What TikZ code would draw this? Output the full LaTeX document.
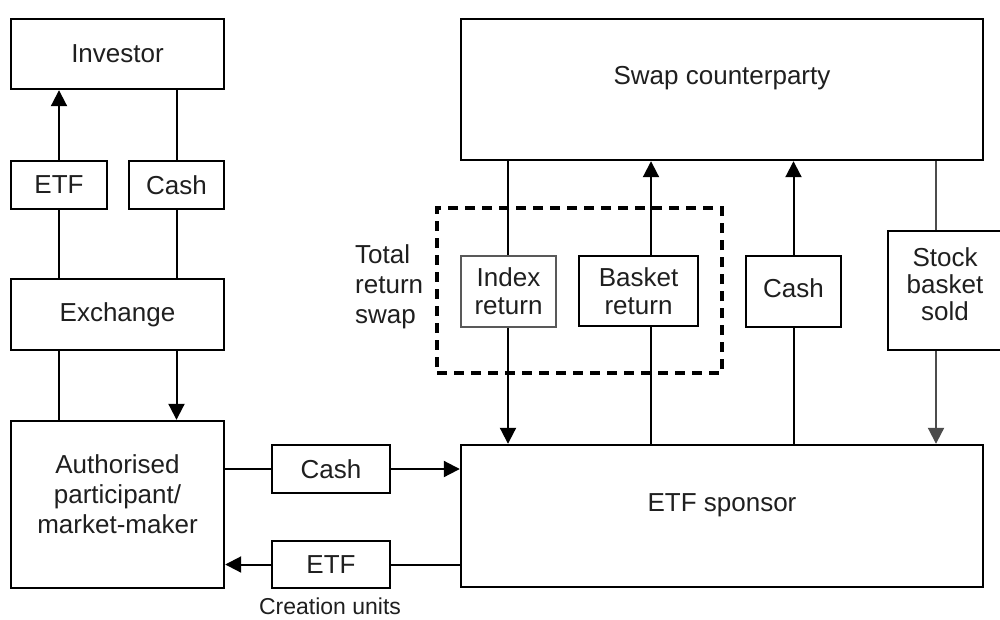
\documentclass[tikz,border=0pt]{standalone}
\usepackage{fontspec}
\setmainfont{Liberation Sans}
\usetikzlibrary{arrows.meta}
\begin{document}
\begin{tikzpicture}[x=1pt,y=-1pt,
  box/.style={draw=black, line width=2.4pt, fill=white, inner sep=0pt, anchor=center,
    text=black!88, font=\fontsize{26}{30}\selectfont, align=center},
  txt/.style={text=black!88, font=\fontsize{26}{30}\selectfont, align=center, inner sep=0pt},
  conn/.style={draw=black, line width=2pt},
  arr/.style={conn, -{Triangle[length=16pt,width=16pt]}},
  greyconn/.style={draw=black!70, line width=2pt},
  greyarr/.style={greyconn, -{Triangle[length=16pt,width=16pt]}},
  trsbox/.style={draw=black, line width=4pt, dash pattern=on 10pt off 7pt, inner sep=0pt, anchor=center}
]
\useasboundingbox (0,0) rectangle (1000,619);
\clip (0,0) rectangle (1000,619);
\fill[white] (0,0) rectangle (1000,619);

% left column
\node[box, minimum width=213pt, minimum height=70pt] (inv) at (117.5,54) {Investor};
\node[box, minimum width=96pt, minimum height=48pt] (etf1) at (59,185) {ETF};
\node[box, minimum width=95pt, minimum height=48pt] (cash1) at (176.5,185) {Cash};
\node[box, minimum width=213pt, minimum height=71pt] (exch) at (117.5,314.5) {Exchange};
\node[box, minimum width=213pt, minimum height=167pt] (ap) at (117.5,504.5) {};
\node[txt] (aptext) at ([yshift=10pt]ap.center) {Authorised\\participant/\\market-maker};

% middle
\node[box, minimum width=118pt, minimum height=48pt] (cash2) at (331,469) {Cash};
\node[box, minimum width=118pt, minimum height=47pt] (etf2) at (331,564.5) {ETF};
\node[txt, font=\fontsize{23}{28}\selectfont] (cu) at (330,606) {Creation units};

% right
\node[box, minimum width=522pt, minimum height=141pt] (swap) at (722,89.5) {};
\node[txt] (swaptext) at ([yshift=11.5pt]swap.center) {Swap counterparty};
\node[box, minimum width=522pt, minimum height=142pt] (sp) at (722,516) {};
\node[txt] (sptext) at ([yshift=11pt]sp.center) {ETF sponsor};

\node[trsbox, minimum width=285pt, minimum height=165pt] (trs) at (579.5,290.5) {};
\node[txt, align=left, anchor=west] (trstext) at (355,287) {Total\\return\\swap};

\node[box, draw=black!65, line width=1.6pt, minimum width=95pt, minimum height=71pt, font=\fontsize{26}{28}\selectfont] (idx) at (508.5,291.5) {Index\\return};
\node[box, minimum width=119pt, minimum height=70pt, font=\fontsize{26}{28}\selectfont] (bsk) at (638.5,291) {Basket\\return};
\node[box, minimum width=95pt, minimum height=71pt] (cash3) at (793.5,291.5) {};
\node[txt] (cash3text) at ([yshift=3pt]cash3.center) {Cash};
\node[box, minimum width=114pt, minimum height=119pt] (stock) at (945,290.5) {};
\node[txt, font=\fontsize{26}{27}\selectfont] (stocktext) at ([yshift=6pt]stock.center) {Stock\\basket\\sold};

\coordinate (bx) at (651,0);
\coordinate (sx) at (936,0);
\coordinate (ix) at (508,0);

% left connectors
\draw[arr] (etf1.north) -- (etf1.north |- inv.south);
\draw[conn] (cash1.north) -- (cash1.north |- inv.south);
\draw[conn] (etf1.south |- exch.north) -- (etf1.south);
\draw[conn] (cash1.south |- exch.north) -- (cash1.south);
\draw[conn] (etf1.south |- exch.south) -- (etf1.south |- ap.north);
\draw[arr] (cash1.south |- exch.south) -- (cash1.south |- ap.north);

% middle connectors
\draw[conn] (ap.east |- cash2.west) -- (cash2.west);
\draw[arr] (cash2.east) -- (cash2.east -| sp.west);
\draw[conn] (etf2.east -| sp.west) -- (etf2.east);
\draw[arr] (etf2.west) -- (etf2.west -| ap.east);

% right connectors
\draw[conn] (swap.south -| ix) -- (idx.north -| ix);
\draw[arr] (idx.south -| ix) -- (sp.north -| ix);
\draw[conn] (sp.north -| bx) -- (bsk.south -| bx);
\draw[arr] (bsk.north -| bx) -- (swap.south -| bx);
\draw[conn] (sp.north -| cash3.south) -- (cash3.south);
\draw[arr] (cash3.north) -- (cash3.north |- swap.south);
\draw[greyconn] (swap.south -| sx) -- (stock.north -| sx);
\draw[greyarr] (stock.south -| sx) -- (sp.north -| sx);
\end{tikzpicture}
\end{document}
